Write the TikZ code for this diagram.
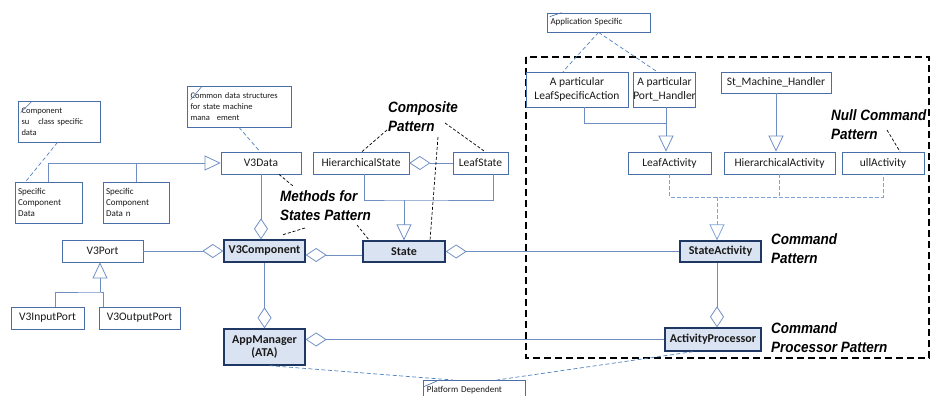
\documentclass[tikz,border=0pt]{standalone}
\usepackage{fontspec}
\setmainfont{Carlito}
\newfontfamily\patfont[FakeStretch=0.9]{Liberation Sans}
\usetikzlibrary{arrows.meta,calc}

\definecolor{boxline}{HTML}{4A6FA8}
\definecolor{mainline}{HTML}{1F3763}
\definecolor{mainfill}{HTML}{DAE3F1}
\definecolor{conline}{HTML}{6F8FC4}
\definecolor{realline}{HTML}{7FA3D6}
\definecolor{noteline}{HTML}{4F81BD}
\definecolor{txt}{HTML}{1A1A1A}

\tikzset{
  cls/.style={draw=boxline, line width=0.7pt, fill=white, inner sep=0pt,
    text=txt, align=center, font=\fontsize{11.5}{14.5}\selectfont},
  maincls/.style={cls, draw=mainline, line width=1.3pt, fill=mainfill,
    font=\bfseries\fontsize{12}{13.5}\selectfont},
  leftcls/.style={cls, align=left, inner xsep=3pt, font=\fontsize{9}{11.3}\selectfont},
  notebox/.style={draw=boxline, line width=0.7pt, fill=white, inner xsep=3.5pt,
    inner ysep=0pt, text=txt, align=left, font=\fontsize{8.5}{11}\selectfont},
  pattern/.style={font=\patfont\bfseries\itshape\fontsize{15}{19}\selectfont,
    align=left, inner sep=0pt, anchor=west, text=black},
  conn/.style={draw=conline, line width=0.8pt, line join=miter},
  agg/.style={conn, arrows={Diamond[open,length=21pt,width=14pt]-}},
  gen/.style={conn, arrows={-Triangle[open,length=16pt,width=15pt]}},
  rconn/.style={draw=realline, line width=0.8pt, dash pattern=on 4pt off 2pt},
  real/.style={rconn, arrows={-Triangle[open,length=16pt,width=15pt]}},
  plink/.style={draw=black, line width=0.7pt, dash pattern=on 3pt off 2pt},
  nlink/.style={draw=noteline, line width=0.7pt, dash pattern=on 4pt off 2.5pt},
  slash/.style={draw=boxline, line width=0.6pt},
  groupframe/.style={draw=black, line width=1.6pt, dash pattern=on 7pt off 4pt}
}

\begin{document}
\begin{tikzpicture}[x=1pt,y=-1pt]
\useasboundingbox (0,0) rectangle (930,396);

% command-pattern group
\draw[groupframe] (526,57) rectangle (929,358);

% notes
\node[notebox, text width=75pt, minimum height=41pt] (cnote) at (59,121.5)
  {Component\\su\hspace*{9pt}class specific\\data};
\node[notebox, text width=97pt, minimum height=41pt] (dnote) at (239,106.5)
  {Common data structures\\for state machine\\mana\hspace*{7pt}ement};
\node[notebox, text width=96pt, minimum height=19pt, font=\fontsize{9}{11}\selectfont] (appnote) at (598.5,22.5)
  {Application Specific};
\node[notebox, text width=95pt, minimum height=20pt, anchor=north west, font=\fontsize{9}{11}\selectfont] (platform) at (423,380)
  {Platform Dependent};

\draw[slash] ($(cnote.north west)+(3,12)$) -- ($(cnote.north west)+(14,1)$);
\draw[slash] ($(dnote.north west)+(4,14)$) -- ($(dnote.north west)+(15,1)$);
\draw[slash] ($(appnote.north west)+(3,4)$) -- ($(appnote.north west)+(15,0)$);
\draw[slash] ($(platform.north west)+(0,7)$) -- ($(platform.north west)+(14,1)$);

% classes
\node[cls, minimum width=80pt, minimum height=22pt] (v3data) at (261,163) {V3Data};
\node[leftcls, text width=61pt, minimum height=41pt] (scd) at (48.5,202.5) {Specific\\Component\\Data};
\node[leftcls, text width=60pt, minimum height=41pt] (scdn) at (136,202.5) {Specific\\Component\\Data n};
\node[cls, minimum width=96pt, minimum height=22pt] (hstate) at (361,163) {HierarchicalState};
\node[cls, minimum width=55pt, minimum height=22pt] (lstate) at (480.5,163) {LeafState};
\node[cls, minimum width=81pt, minimum height=22pt] (v3port) at (102.5,251) {V3Port};
\node[maincls, minimum width=81pt, minimum height=22pt] (v3comp) at (264.5,251) {V3Component};
\node[maincls, minimum width=82pt, minimum height=21pt] (state) at (404,251.5) {State};
\node[cls, minimum width=73pt, minimum height=22pt] (inport) at (47.5,318) {V3InputPort};
\node[cls, minimum width=81pt, minimum height=22pt] (outport) at (139.5,318) {V3OutputPort};
\node[maincls, minimum width=81pt, minimum height=36pt] (appmgr) at (264.5,347) {AppManager\\(ATA)};

\node[cls, minimum width=102pt, minimum height=35pt] (lsa) at (577,89.5) {A particular\\LeafSpecificAction};
\node[cls, minimum width=57pt, minimum height=35pt] (ph) at (664.5,89.5) {A particular\\Port\_Handler};
\node[cls, minimum width=110pt, minimum height=21pt] (smh) at (776,82.5) {St\_Machine\_Handler};
\node[cls, minimum width=83pt, minimum height=22pt] (lact) at (669.5,163) {LeafActivity};
\node[cls, minimum width=111pt, minimum height=22pt] (hact) at (779.5,163) {HierarchicalActivity};
\node[cls, minimum width=82pt, minimum height=22pt] (nact) at (883,163) {ullActivity};
\node[maincls, minimum width=81pt, minimum height=21pt] (sact) at (720.5,251.5) {StateActivity};
\node[maincls, minimum width=96pt, minimum height=23pt] (aproc) at (713,339.5) {ActivityProcessor};

% pattern labels
\node[pattern] (pcomp) at (388,117) {Composite\\Pattern};
\node[pattern] (pmeth) at (280,205.5) {Methods for\\States Pattern};
\node[pattern] (pnull) at (831,125) {Null Command\\Pattern};
\node[pattern] (pcmd) at (771,248.5) {Command\\Pattern};
\node[pattern] (pproc) at (771,337.5) {Command\\Processor Pattern};

% aggregations
\draw[agg] (v3comp.north -| v3data.south) -- (v3data.south);
\draw[agg] (v3comp.west) -- (v3port.east);
\draw[agg] ([yshift=-4pt]v3comp.east) coordinate (cs) -- (cs -| state.west);
\draw[agg] (state.east) -- (state.east -| sact.west);
\draw[agg] (appmgr.north) -- (v3comp.south);
\draw[agg] (appmgr.east |- aproc.west) -- (aproc.west);
\draw[agg] ([xshift=4pt]aproc.north) -- ([xshift=4pt]aproc.north |- sact.south);
\draw[agg] (hstate.east) -- (lstate.west);

% generalizations
\draw[gen] (scd.north) |- (v3data.west);
\draw[conn] (scdn.north) -- (scdn.north |- v3data.west);

\coordinate (pjoin) at (100,292);
\draw[conn] ([xshift=7.5pt]inport.north) |- (pjoin) -| ([xshift=-36.5pt]outport.north);
\draw[gen] (pjoin) -- (pjoin |- v3port.south);

\coordinate (hjoin) at (404,200);
\draw[conn] ([xshift=3pt]hstate.south) |- (hjoin) -| ([xshift=12.5pt]lstate.south);
\draw[gen] (hjoin) -- (state.north);

\coordinate (ljoin) at (666,123);
\draw[conn] ([xshift=7pt]lsa.south) |- (ljoin);
\draw[gen] (ljoin |- ph.south) -- (ljoin |- lact.north);
\draw[gen] (smh.south) -- (smh.south |- hact.north);

% realizations of StateActivity
\coordinate (rjoin) at (717,197);
\draw[rconn] (lact.south) |- (rjoin) -| (nact.south);
\draw[rconn] (hact.south) -- (hact.south |- rjoin);
\draw[real] (rjoin) -- (rjoin |- sact.north);

% note links
\draw[nlink] ([xshift=-1.5pt]cnote.south) -- ([xshift=11pt]scd.north west);
\draw[nlink] (dnote.south) -- ([xshift=-1pt]v3data.north);
\draw[nlink] (appnote.south) -- ([xshift=-14pt]lsa.north);
\draw[nlink] (appnote.south) -- ([xshift=-7.5pt]ph.north);
\draw[nlink] ([xshift=5pt]appmgr.south) -- ([xshift=30pt]platform.north west);
\draw[nlink] ([xshift=-20pt]aproc.south) -- ([xshift=74pt]platform.north west);

% pattern links
\coordinate (c1) at (387,130);
\coordinate (c2) at (445,123);
\coordinate (c3) at (438,137);
\draw[plink] (c1) -- ([xshift=1pt]hstate.north);
\draw[plink] (c2) -- ([xshift=4.5pt]lstate.north);
\draw[plink] (c3) -- ([xshift=26pt]state.north);
\coordinate (m1) at (293,186);
\coordinate (m2) at (305,228);
\coordinate (m3) at (282,235);
\coordinate (m4) at (357,225);
\draw[plink] ([xshift=18pt]v3data.south) -- (m1);
\draw[plink] (m2) -- (m3);
\draw[plink] (m4) -- ([xshift=7pt]state.north west);
\coordinate (n1) at (887,130);
\draw[plink] (n1) -- ([xshift=17pt]nact.north);
\end{tikzpicture}
\end{document}
